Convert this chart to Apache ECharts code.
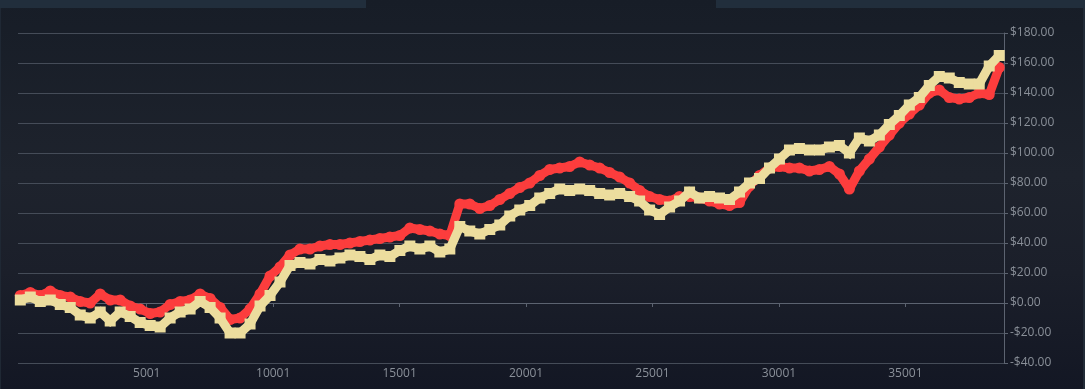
<!DOCTYPE html>
<html>
<head>
<meta charset="utf-8">
<script src="https://cdn.jsdelivr.net/npm/echarts@6/dist/echarts.min.js"></script>
<style>
  html, body { margin: 0; padding: 0; width: 1085px; height: 389px; overflow: hidden; }
  body { background: linear-gradient(to bottom, #171d27 0%, #1e232d 45%, #1b1f2a 70%, #131724 100%); position: relative; }
  #tabL { position: absolute; left: 0; top: 0; width: 366px; height: 8px; background: #212e3c; }
  #tabR { position: absolute; left: 716px; top: 0; width: 369px; height: 8px; background: #212e3c; }
  #edgeR { position: absolute; right: 0; top: 8px; width: 2px; height: 381px; background: #222b37; }
  #edgeL { position: absolute; left: 0; top: 8px; width: 1px; height: 381px; background: #1f2834; }
  #chart { position: absolute; left: 0; top: 0; width: 1085px; height: 389px; }
</style>
</head>
<body>
<div id="tabL"></div><div id="tabR"></div><div id="edgeR"></div><div id="edgeL"></div>
<div id="chart"></div>
<script>
// sample positions (trade index) and values
const sampleStart = 1;
const sampleStep = 395;
const xTickLabels = [5001, 10001, 15001, 20001, 25001, 30001, 35001];
const yTicks = [-40, -20, 0, 20, 40, 60, 80, 100, 120, 140, 160, 180];

const redValues = [5, 7, 5, 8, 5, 4, 1, 0, 6, 2, 2, -2, -4, -7, -6, -1, 1, 2, 6, 3,
  -3, -11, -10, -4, 6, 18, 24, 32, 36, 36, 38, 39, 39, 40, 41, 42, 43, 44, 45, 50,
  49, 48, 46, 45, 66, 66, 63, 65, 69, 73, 77, 80, 85, 89, 90, 91, 94, 92, 90, 87,
  84, 80, 75, 71, 69, 68, 71, 71, 70, 68, 66, 65, 67, 78, 85, 90, 91, 90, 90, 88,
  89, 91, 86, 76, 88, 96, 104, 112, 120, 126, 132, 140, 142, 137, 136, 137, 140, 139, 157];

const yellowValues = [2, 4, 1, 2, -1, -3, -8, -10, -6, -12, -6, -9, -13, -15, -16, -10, -6, -4, 1, -3,
  -10, -20, -20, -14, -2, 5, 14, 25, 27, 26, 29, 28, 30, 32, 31, 29, 32, 31, 35, 38,
  36, 38, 34, 36, 51, 48, 46, 49, 52, 58, 62, 65, 70, 73, 76, 75, 76, 75, 73, 72,
  73, 71, 68, 62, 59, 64, 68, 74, 70, 71, 70, 69, 74, 80, 83, 90, 96, 102, 103, 102,
  102, 104, 105, 100, 110, 108, 112, 119, 125, 132, 137, 145, 151, 150, 147, 146, 146, 158, 165];

const toPairs = vals => vals.map((v, i) => [sampleStart + i * sampleStep, v]);

const chart = echarts.init(document.getElementById('chart'), null, { renderer: 'canvas' });
const labelColor = '#8a9099';
chart.setOption({
  backgroundColor: 'transparent',
  animation: false,
  grid: { left: 18, right: 81, top: 33, bottom: 26, containLabel: false },
  xAxis: {
    type: 'value',
    min: -90,
    max: 38900,
    splitLine: { show: false },
    axisLine: { show: true, lineStyle: { color: '#5c6370', width: 1 } },
    axisTick: { show: true, customValues: xTickLabels, length: 4, lineStyle: { color: '#5c6370' } },
    axisLabel: {
      customValues: xTickLabels, color: labelColor, fontFamily: 'Open Sans', fontSize: 12, margin: 5,
      formatter: v => String(v)
    }
  },
  yAxis: {
    type: 'value',
    position: 'right',
    min: -40, max: 180, interval: 20,
    splitLine: { show: true, lineStyle: { color: '#454c58', width: 1 } },
    axisLine: { show: true, onZero: false, lineStyle: { color: '#5c6370', width: 1 } },
    axisTick: { show: true, length: 4, lineStyle: { color: '#5c6370' } },
    axisLabel: {
      color: labelColor, fontFamily: 'Open Sans', fontSize: 12, margin: 6,
      formatter: v => (v < 0 ? '-$' + Math.abs(v).toFixed(2) : '$' + v.toFixed(2))
    }
  },
  series: [
    {
      type: 'line', data: toPairs(redValues), z: 2,
      lineStyle: { color: '#fc3d3d', width: 9, join: 'round', cap: 'round' },
      itemStyle: { color: '#fc3d3d' },
      symbol: 'circle', symbolSize: 11, showSymbol: true, showAllSymbol: true
    },
    {
      type: 'line', data: toPairs(yellowValues), z: 3,
      lineStyle: { color: '#ecdd9e', width: 9, join: 'miter' },
      itemStyle: { color: '#ecdd9e' },
      symbol: 'rect', symbolSize: 11, showSymbol: true, showAllSymbol: true
    }
  ]
});
</script>
</body>
</html>
